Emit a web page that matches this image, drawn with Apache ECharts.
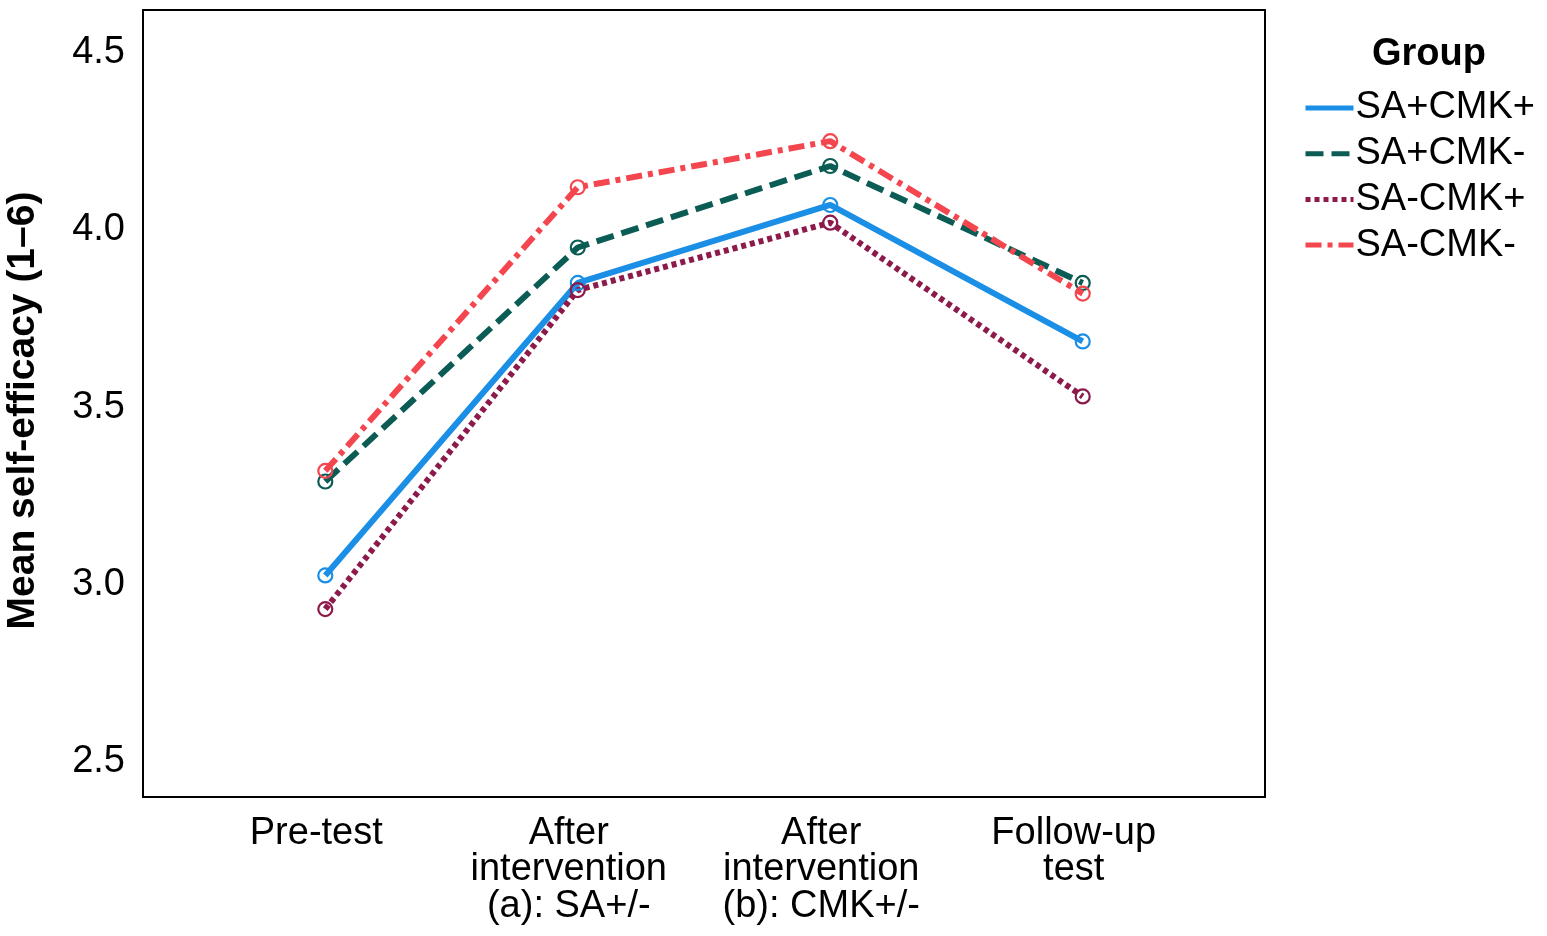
<!DOCTYPE html>
<html>
<head>
<meta charset="utf-8">
<script src="https://cdn.jsdelivr.net/npm/echarts@6/dist/echarts.min.js"></script>
<style>
  html, body { margin: 0; padding: 0; background: #fff; }
  #chart { width: 1547px; height: 936px; }
</style>
</head>
<body>
<div id="chart"></div>
<script>
var timePoints = ['Pre-test', 'After\nintervention\n(a): SA+/-', 'After\nintervention\n(b): CMK+/-', 'Follow-up\ntest'];
var groupNames = ['SA+CMK+', 'SA+CMK-', 'SA-CMK+', 'SA-CMK-'];
var saCmkPlus = [3.025, 3.85, 4.07, 3.685];
var saCmkMinus = [3.29, 3.95, 4.18, 3.85];
var noSaCmkPlus = [2.93, 3.83, 4.02, 3.53];
var noSaCmkMinus = [3.32, 4.12, 4.25, 3.82];
var yTicks = [2.5, 3.0, 3.5, 4.0, 4.5];

var font = '"Liberation Sans", Arial, sans-serif';
var groupValues = [saCmkPlus, saCmkMinus, noSaCmkPlus, noSaCmkMinus];
var colors = ['#1b8fe6', '#0b5c54', '#8c1a4b', '#f4464f'];
var dashes = ['solid', [18, 8], [5, 4], [16, 6, 5, 6]];

var myChart = echarts.init(document.getElementById('chart'));

var series = groupNames.map(function (name, i) {
    return {
        name: name,
        type: 'line',
        data: groupValues[i].map(function (v, k) { return [k, v]; }),
        symbol: 'circle',
        symbolSize: 14,
        z: i === 3 ? 5 : 3,
        lineStyle: { color: colors[i], width: 6, type: dashes[i], cap: 'butt' },
        itemStyle: { color: 'rgba(255,255,255,0)', borderColor: colors[i], borderWidth: 2.2 }
    };
});

var option = {
    animation: false,
    title: {
        text: 'Group',
        left: 1367,
        top: 31,
        textStyle: { fontFamily: font, fontSize: 38, fontWeight: 'bold', color: '#000' }
    },
    legend: {
        orient: 'vertical',
        left: 1303,
        top: 89,
        padding: 0,
        itemWidth: 48,
        itemHeight: 14,
        itemGap: 7.7,
        itemStyle: { opacity: 0 },
        lineStyle: { width: 5, cap: 'butt' },
        textStyle: { fontFamily: font, fontSize: 38, color: '#000', padding: [0, 0, 0, -3] },
        data: groupNames
    },
    grid: {
        left: 143,
        right: 282,
        top: 10,
        bottom: 139,
        show: true,
        borderColor: '#000',
        borderWidth: 2,
        containLabel: false,
        outerBoundsMode: 'none'
    },
    xAxis: {
        type: 'value',
        min: -0.722,
        max: 3.722,
        axisLine: { show: false },
        axisTick: { show: false },
        splitLine: { show: false },
        axisLabel: {
            customValues: [0, 1, 2, 3],
            formatter: function (v) { return timePoints[Math.round(v)]; },
            fontFamily: font,
            fontSize: 38,
            lineHeight: 36.5,
            color: '#000',
            margin: 18,
            padding: [0, 18, 0, 0]
        }
    },
    yAxis: {
        type: 'value',
        min: 2.4,
        max: 4.62,
        name: 'Mean self-efficacy (1\u20136)',
        nameLocation: 'middle',
        nameGap: 100,
        nameTextStyle: { fontFamily: font, fontSize: 39, fontWeight: 'bold', color: '#000', padding: [0, 14, 0, 0] },
        axisLine: { show: false },
        axisTick: { show: false },
        splitLine: { show: false },
        axisLabel: {
            customValues: yTicks,
            formatter: function (v) { return v.toFixed(1); },
            fontFamily: font,
            fontSize: 38,
            color: '#000',
            margin: 18
        }
    },
    series: series
};

myChart.setOption(option);
</script>
</body>
</html>
